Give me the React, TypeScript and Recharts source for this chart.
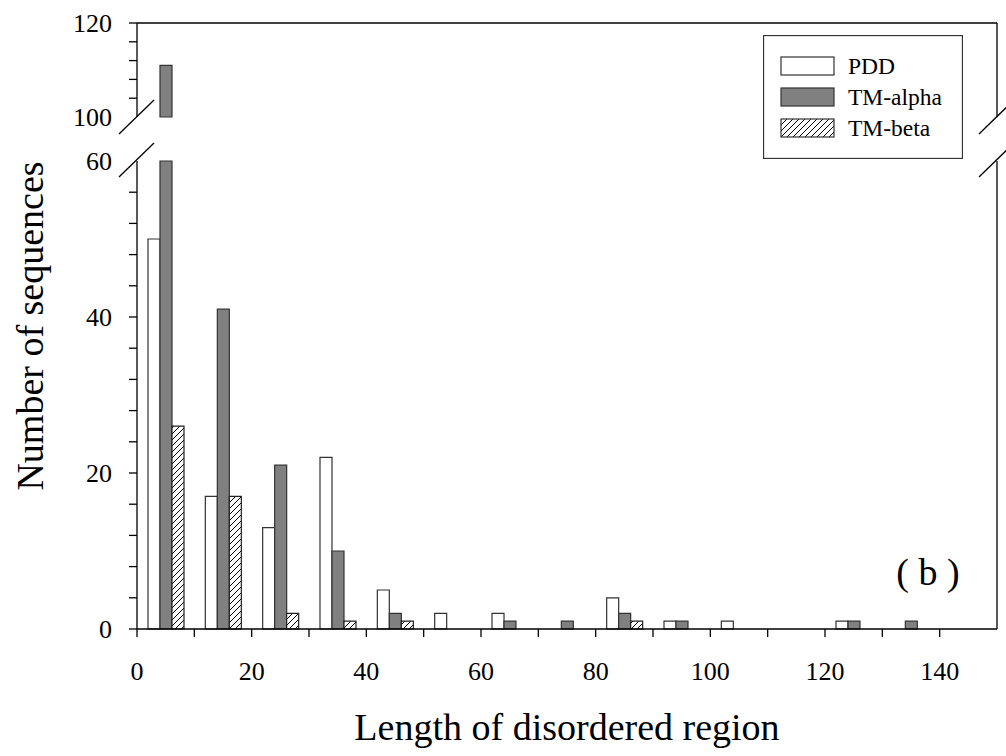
import React from 'react';
import { BarChart, Bar, XAxis, YAxis, Legend, ReferenceLine, Label } from 'recharts';

// ---- data ----
const bins = [5, 15, 25, 35, 45, 55, 65, 75, 85, 95, 105, 115, 125, 135, 145];
const pdd = [50, 17, 13, 22, 5, 2, 2, 0, 4, 1, 1, 0, 1, 0, 0];
const tmAlpha = [111, 41, 21, 10, 2, 0, 1, 1, 2, 1, 0, 0, 1, 1, 0];
const tmBeta = [26, 17, 2, 1, 1, 0, 0, 0, 1, 0, 0, 0, 0, 0, 0];
const seriesNames = ['PDD', 'TM-alpha', 'TM-beta'];

const xTicks = [0, 10, 20, 30, 40, 50, 60, 70, 80, 90, 100, 110, 120, 130, 140];
const xLabelTicks = [0, 20, 40, 60, 80, 100, 120, 140];
const lowerYTicks = [0, 4, 8, 12, 16, 20, 24, 28, 32, 36, 40, 44, 48, 52, 56, 60];
const upperYTicks = [100, 104, 108, 112, 116, 120];
const yLabelTicks = [0, 20, 40, 60, 100, 120];
const lowerDomain = [0, 60];
const upperDomain = [100, 120];
const xDomain = [0, 150];

// ---- layout constants ----
const W = 1006;
const H = 756;
const PLOT_LEFT = 137;
const PLOT_RIGHT = 997;
const UPPER_TOP = 23;
const UPPER_BOTTOM = 117;
const LOWER_TOP = 161;
const LOWER_BOTTOM = 629;
const Y_AXIS_W = 60;
const X_AXIS_H = 40;
const TICK = 8;
const Y_TICK_MARGIN = 17;
const FONT = '"Liberation Serif", "Times New Roman", serif';

const lowerData = bins.map((b, i) => ({
  bin: b,
  pdd: pdd[i] > 0 ? Math.min(pdd[i], lowerDomain[1]) : null,
  tmAlpha: tmAlpha[i] > 0 ? Math.min(tmAlpha[i], lowerDomain[1]) : null,
  tmBeta: tmBeta[i] > 0 ? Math.min(tmBeta[i], lowerDomain[1]) : null,
}));

const upperData = bins.map((b, i) => ({
  bin: b,
  pdd: pdd[i] > upperDomain[0] ? pdd[i] : null,
  tmAlpha: tmAlpha[i] > upperDomain[0] ? tmAlpha[i] : null,
  tmBeta: tmBeta[i] > upperDomain[0] ? tmBeta[i] : null,
}));

const makeYTick = (skipLine: number[]) => (props: any) => {
  const { x, y, payload } = props;
  const v = payload.value;
  const axisX = x + TICK + Y_TICK_MARGIN;
  return (
    <g>
      {!skipLine.includes(v) && (
        <line x1={axisX - TICK} x2={axisX} y1={y} y2={y} stroke="#000" strokeWidth={1.3} />
      )}
      {yLabelTicks.includes(v) && (
        <text x={x} y={y} textAnchor="end" dominantBaseline="central" fontSize={26} fontFamily={FONT} fill="#000">
          {v}
        </text>
      )}
    </g>
  );
};

const XTick = (props: any) => {
  const { x, y, payload } = props;
  const v = payload.value;
  if (!xLabelTicks.includes(v)) return <g />;
  return (
    <text x={x} y={y + 43} textAnchor="middle" fontSize={26} fontFamily={FONT} fill="#000">
      {v}
    </text>
  );
};

const HatchDefs = ({ id }: { id: string }) => (
  <defs>
    <pattern id={id} patternUnits="userSpaceOnUse" width={6} height={6}>
      <rect width={6} height={6} fill="#fff" />
      <path d="M0,6 L6,0 M-1,1 L1,-1 M5,7 L7,5" stroke="#000" strokeWidth={1} />
    </pattern>
  </defs>
);

const barStyles = [
  { key: 'pdd', fill: '#ffffff', stroke: '#333' },
  { key: 'tmAlpha', fill: '#808080', stroke: '#333' },
  { key: 'tmBeta', fill: 'url(#hatch)', stroke: '#222' },
];

const renderLegend = (props: any) => {
  const payload = props.payload || [];
  const swatchFill = ['#ffffff', '#808080', 'url(#hatchLegend)'];
  return (
    <svg width={200} height={124} style={{ display: 'block' }}>
      <HatchDefs id="hatchLegend" />
      <rect x={0.5} y={0.5} width={199} height={123} fill="#fff" stroke="#333" strokeWidth={1.3} />
      {payload.map((entry: any, i: number) => (
        <g key={entry.value}>
          <rect x={18} y={22 + i * 31} width={53} height={18} fill={swatchFill[i]} stroke="#333" strokeWidth={1.2} />
          <text x={85} y={31 + i * 31} dominantBaseline="central" fontSize={23.5} fontFamily={FONT} fill="#000">
            {entry.value}
          </text>
        </g>
      ))}
    </svg>
  );
};

const renderXTitle = (props: any) => {
  const vb = props.viewBox || { x: PLOT_LEFT, y: LOWER_BOTTOM, width: PLOT_RIGHT - PLOT_LEFT };
  return (
    <text x={vb.x + vb.width / 2} y={vb.y + 111} textAnchor="middle" fontSize={38} fontFamily={FONT} fill="#000">
      Length of disordered region
    </text>
  );
};

export default function App() {
  const yMid = (UPPER_TOP + LOWER_BOTTOM) / 2;
  return (
    <div style={{ position: 'absolute', left: 0, top: 0, width: W, height: H, background: '#fff' }}>
      {/* lower (main) panel */}
      <div style={{ position: 'absolute', left: 0, top: 0 }}>
        <BarChart
          width={W}
          height={H}
          data={lowerData}
          margin={{ top: LOWER_TOP, right: W - PLOT_RIGHT, bottom: H - LOWER_BOTTOM - X_AXIS_H, left: PLOT_LEFT - Y_AXIS_W }}
          barGap={0}
        >
          <HatchDefs id="hatch" />
          <XAxis
            dataKey="bin"
            type="number"
            domain={xDomain}
            ticks={xTicks}
            interval={0}
            height={X_AXIS_H}
            tickSize={TICK}
            tickMargin={0}
            tick={XTick}
            axisLine={{ stroke: '#000', strokeWidth: 1.3 }}
            tickLine={{ stroke: '#000', strokeWidth: 1.3 }}
          >
            <Label position="bottom" content={renderXTitle} />
          </XAxis>
          <YAxis
            type="number"
            domain={lowerDomain}
            ticks={lowerYTicks}
            interval={0}
            width={Y_AXIS_W}
            tickSize={TICK}
            tickMargin={Y_TICK_MARGIN}
            tickLine={false}
            tick={makeYTick([60])}
            axisLine={{ stroke: '#000', strokeWidth: 1.3 }}
          />
          <ReferenceLine x={150} stroke="#000" strokeWidth={1.3} />
          {barStyles.map((s, i) => (
            <Bar
              key={s.key}
              dataKey={s.key}
              name={seriesNames[i]}
              fill={s.fill}
              stroke={s.stroke}
              strokeWidth={1.2}
              barSize={12}
              isAnimationActive={false}
            />
          ))}
          <Legend
            layout="vertical"
            align="center"
            verticalAlign="middle"
            content={renderLegend}
            wrapperStyle={{ left: 763, top: 35, width: 200, height: 124 }}
          />
        </BarChart>
      </div>

      {/* upper (broken) panel */}
      <div style={{ position: 'absolute', left: 0, top: 0 }}>
        <BarChart
          width={W}
          height={140}
          data={upperData}
          margin={{ top: UPPER_TOP, right: W - PLOT_RIGHT, bottom: 140 - UPPER_BOTTOM, left: PLOT_LEFT - Y_AXIS_W }}
          barGap={0}
        >
          <XAxis dataKey="bin" type="number" domain={xDomain} hide />
          <YAxis
            type="number"
            domain={upperDomain}
            ticks={upperYTicks}
            interval={0}
            width={Y_AXIS_W}
            tickSize={TICK}
            tickMargin={Y_TICK_MARGIN}
            tickLine={false}
            tick={makeYTick([100])}
            axisLine={{ stroke: '#000', strokeWidth: 1.3 }}
          />
          <ReferenceLine y={120} stroke="#000" strokeWidth={1.3} />
          <ReferenceLine x={150} stroke="#000" strokeWidth={1.3} />
          {barStyles.map((s, i) => (
            <Bar
              key={s.key}
              dataKey={s.key}
              name={seriesNames[i]}
              fill={s.fill === 'url(#hatch)' ? '#fff' : s.fill}
              stroke={s.stroke}
              strokeWidth={1.2}
              barSize={12}
              isAnimationActive={false}
            />
          ))}
        </BarChart>
      </div>

      {/* decorations: axis break marks, axis title, panel tag */}
      <svg width={W} height={H} style={{ position: 'absolute', left: 0, top: 0, pointerEvents: 'none' }}>
        {[PLOT_LEFT, PLOT_RIGHT].map((x) =>
          [UPPER_BOTTOM, LOWER_TOP - 1].map((y) => (
            <line key={`${x}-${y}`} x1={x - 18} y1={y + 17} x2={x + 17} y2={y - 17} stroke="#000" strokeWidth={1.3} />
          ))
        )}
        <text
          x={43}
          y={yMid}
          transform={`rotate(-90, 43, ${yMid})`}
          textAnchor="middle"
          fontSize={38}
          fontFamily={FONT}
          fill="#000"
        >
          Number of sequences
        </text>
        <text x={928} y={585} textAnchor="middle" fontSize={38} fontFamily={FONT} fill="#000">
          ( b )
        </text>
      </svg>
    </div>
  );
}
